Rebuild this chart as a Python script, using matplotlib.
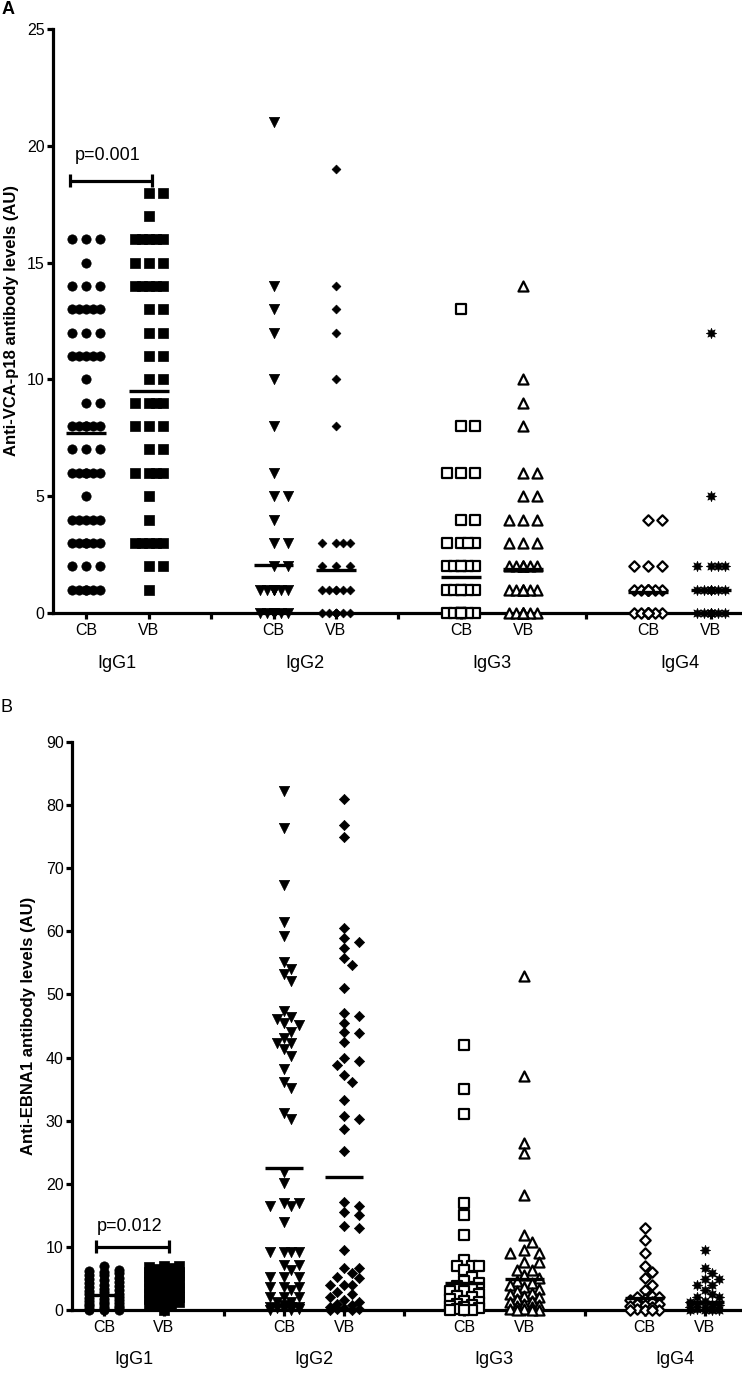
import numpy as np
import matplotlib
matplotlib.use("Agg")
import matplotlib.pyplot as plt

plt.rcParams['font.family'] = ['Liberation Sans', 'DejaVu Sans']

# ---------------- data ----------------
groups = ["IgG1", "IgG2", "IgG3", "IgG4"]
subgroups = ["CB", "VB"]

# Panel A: Anti-VCA-p18 (AU)
A_IgG1_CB = [16, 16, 16, 15, 14, 14, 14, 13, 13, 13, 13, 13, 12, 12, 12, 11, 11, 11, 11, 11,
             10, 9, 9, 8, 8, 8, 8, 8, 8, 7, 7, 7, 6, 6, 6, 6, 6, 6, 5, 4, 4, 4, 4, 4,
             3, 3, 3, 3, 3, 3, 2, 2, 2, 1, 1, 1, 1, 1, 1]
A_IgG1_VB = [18, 18, 17, 16, 16, 16, 16, 16, 15, 15, 15, 14, 14, 14, 14, 14, 13, 13, 12, 12,
             11, 11, 10, 10, 9, 9, 9, 9, 8, 8, 8, 7, 7, 6, 6, 6, 6, 5, 4, 3, 3, 3, 3, 3, 2, 2, 1]
A_IgG2_CB = [21, 14, 13, 12, 10, 8, 6, 5, 5, 4, 3, 3, 2, 2, 1, 1, 1, 1, 1, 1, 1,
             0, 0, 0, 0, 0, 0, 0, 0]
A_IgG2_VB = [19, 14, 13, 12, 10, 8, 3, 3, 3, 3, 2, 2, 2, 1, 1, 1, 1, 1, 1,
             0, 0, 0, 0, 0, 0, 0, 0]
A_IgG3_CB = [13, 8, 8, 6, 6, 6, 4, 4, 3, 3, 3, 3, 2, 2, 2, 2, 2, 2, 1, 1, 1, 1, 1, 1,
             0, 0, 0, 0, 0, 0, 0, 0]
A_IgG3_VB = [14, 10, 9, 8, 6, 6, 5, 5, 4, 4, 4, 3, 3, 3, 2, 2, 2, 2, 2, 2, 2,
             1, 1, 1, 1, 1, 1, 1, 0, 0, 0, 0, 0, 0, 0, 0]
A_IgG4_CB = [4, 4, 2, 2, 2, 1, 1, 1, 1, 1, 1, 1, 1, 0, 0, 0, 0, 0, 0, 0, 0]
A_IgG4_VB = [12, 5, 2, 2, 2, 2, 1, 1, 1, 1, 1, 1, 1, 1, 0, 0, 0, 0, 0, 0, 0, 0]
A_means = [7.7, 9.5, 2.05, 1.85, 1.55, 1.9, 0.9, 1.0]

# Panel B: Anti-EBNA1 (AU)
B_IgG1_CB = [7.0, 6.3, 6.2, 6.1, 5.8, 5.6, 5.5, 5.0, 4.9, 4.7, 4.4, 4.2, 4.0, 3.8, 3.6, 3.4,
             3.1, 3.0, 2.8, 2.6, 2.5, 2.3, 2.0, 1.9, 1.8, 1.6, 1.4, 1.3, 1.1, 1.0, 0.9,
             0.7, 0.6, 0.5, 0.3, 0.2, 0.1, 0.0, 0.0, 0.0]
B_IgG1_VB = [7.0, 6.9, 6.8, 6.6, 6.5, 6.3, 6.1, 6.0, 5.8, 5.7, 5.5, 5.4, 5.2, 5.0, 4.9, 4.7,
             4.5, 4.4, 4.2, 4.0, 3.8, 3.7, 3.5, 3.3, 3.2, 3.0, 2.8, 2.7, 2.5, 2.3, 2.2,
             2.0, 1.8, 1.7, 1.5, 1.3, 1.2, 1.0, 0.9, 0.8, 0.0]
B_IgG2_CB = [82.2, 76.3, 67.3, 61.4, 59.2, 55.2, 54.1, 53.2, 52.1, 47.3, 46.5, 46.1, 45.4,
             45.2, 44.1, 43.1, 42.3, 42.3, 41.3, 40.3, 38.2, 36.2, 35.2, 31.2, 30.2, 21.9,
             20.1, 17.0, 17.0, 16.4, 16.4, 14.0, 9.2, 9.2, 9.2, 9.2, 7.1, 7.1, 6.4, 5.3,
             5.3, 5.3, 3.7, 3.7, 3.7, 3.2, 2.1, 2.1, 2.1, 1.3, 1.3, 0.8, 0.5, 0.5, 0.4,
             0.3, 0.2, 0.1, 0.0, 0.0]
B_IgG2_VB = [80.9, 76.8, 74.9, 60.5, 58.9, 58.3, 57.4, 55.7, 54.6, 51.1, 47.1, 46.6, 45.4,
             44.0, 43.9, 42.5, 40.0, 39.4, 38.8, 37.3, 36.2, 33.3, 30.7, 30.3, 28.7, 25.2,
             17.1, 16.5, 15.5, 15.0, 13.3, 13.0, 9.5, 6.6, 6.6, 5.8, 5.3, 5.0, 4.0, 4.0,
             4.0, 2.8, 2.5, 2.0, 1.6, 1.2, 1.0, 0.8, 0.5, 0.3, 0.2, 0.1, 0.0, 0.0]
B_IgG3_CB = [42.0, 35.0, 31.0, 17.0, 15.0, 11.9, 7.9, 7.0, 7.0, 7.0, 6.3, 5.3, 4.6, 4.2,
             3.8, 3.4, 3.0, 3.0, 2.6, 2.2, 2.0, 1.8, 1.5, 1.2, 1.0, 0.8, 0.6, 0.4, 0.3,
             0.1, 0.0, 0.0, 0.0]
B_IgG3_VB = [53.0, 37.0, 26.5, 24.8, 18.2, 11.9, 10.7, 9.5, 9.0, 9.0, 7.6, 7.6, 6.3, 6.3,
             5.5, 5.0, 4.6, 4.2, 4.0, 3.6, 3.3, 3.0, 2.7, 2.5, 2.2, 2.0, 1.8, 1.5, 1.3,
             1.0, 0.8, 0.6, 0.4, 0.2, 0.1, 0.0, 0.0, 0.0]
B_IgG4_CB = [13.0, 11.1, 9.1, 7.0, 6.1, 5.1, 4.0, 3.2, 2.2, 2.0, 2.0, 1.8, 1.6, 1.2, 1.0,
             0.9, 0.8, 0.6, 0.4, 0.2, 0.0, 0.0, 0.0, 0.0]
B_IgG4_VB = [9.5, 6.7, 5.8, 4.9, 4.9, 4.0, 4.0, 3.2, 2.5, 2.0, 2.0, 1.5, 1.2, 1.0, 1.0,
             0.8, 0.5, 0.4, 0.2, 0.1, 0.0, 0.0, 0.0, 0.0]
B_means = [2.3, 3.8, 22.5, 21.1, 4.2, 4.9, 1.9, 1.3]

A_series = [A_IgG1_CB, A_IgG1_VB, A_IgG2_CB, A_IgG2_VB, A_IgG3_CB, A_IgG3_VB, A_IgG4_CB, A_IgG4_VB]
B_series = [B_IgG1_CB, B_IgG1_VB, B_IgG2_CB, B_IgG2_VB, B_IgG3_CB, B_IgG3_VB, B_IgG4_CB, B_IgG4_VB]

A_sig = {"x0": -0.25, "x1": 1.05, "y": 18.5, "ty": 19.6, "text": "p=0.001"}
B_sig = {"x0": -0.13, "x1": 1.08, "y": 10.0, "ty": 13.3, "text": "p=0.012"}

# ---------------- layout ----------------
W, H = 742, 1373
fig = plt.figure(figsize=(W / 100, H / 100), dpi=100)


def px_axes(left, top, right, bottom):
    return fig.add_axes([left / W, 1 - bottom / H, (right - left) / W, (bottom - top) / H])


positions = [0, 1, 3, 4, 6, 7, 9, 10]
group_centers = [0.5, 3.5, 6.5, 9.5]

styles_A = [
    dict(marker='o', s=45, facecolors='black', edgecolors='black', linewidths=0.5),
    dict(marker='s', s=50, facecolors='black', edgecolors='black', linewidths=0.5),
    dict(marker='v', s=55, facecolors='black', edgecolors='black', linewidths=0.5),
    dict(marker='D', s=20, facecolors='black', edgecolors='black', linewidths=0.5),
    dict(marker='s', s=48, facecolors='white', edgecolors='black', linewidths=1.6),
    dict(marker='^', s=52, facecolors='white', edgecolors='black', linewidths=1.6),
    dict(marker='D', s=28, facecolors='white', edgecolors='black', linewidths=1.6),
    dict(marker=(8, 1, 0), s=55, facecolors='black', edgecolors='black', linewidths=0.5),
]
styles_B = [dict(st) for st in styles_A]
styles_B[3]['s'] = 27


def swarm_x(ax, vals, xc, cands):
    vals = np.asarray(vals, dtype=float)
    p0 = ax.transData.transform((0, 0))
    p1 = ax.transData.transform((1, 1))
    ppx, ppy = p1[0] - p0[0], p1[1] - p0[1]
    D_px = cands["D"]
    offsets = cands["offsets"]
    placed = []
    offs = np.zeros(len(vals))
    for i in np.argsort(-vals, kind='stable'):
        y = vals[i] * ppy
        best, bestscore = 0.0, -1.0
        for c in offsets:
            md = min([np.hypot(c - px, y - py) for px, py in placed] or [np.inf])
            if md >= D_px:
                best = c
                break
            if md > bestscore + 1e-9:
                bestscore, best = md, c
        offs[i] = best
        placed.append((best, y))
    return xc + offs / ppx


def setup(ax, xlim, ylim, yticks):
    ax.set_xlim(*xlim)
    ax.set_ylim(*ylim)
    for sp in ['top', 'right']:
        ax.spines[sp].set_visible(False)
    for sp in ['left', 'bottom']:
        ax.spines[sp].set_linewidth(2.3)
        ax.spines[sp].set_capstyle('projecting')
    ax.set_yticks(yticks)
    ax.set_xticks(range(11))
    labels = []
    for i in range(11):
        if i in positions:
            labels.append(subgroups[positions.index(i) % 2])
        else:
            labels.append('')
    ax.set_xticklabels(labels)
    ax.tick_params(axis='both', direction='out', length=4.5, width=2.3, labelsize=11.5,
                   colors='black')
    ax.tick_params(axis='x', pad=3)
    ax.tick_params(axis='y', pad=1.5)
    for gc, gname in zip(group_centers, groups):
        ax.annotate(gname, xy=(gc, 0), xycoords=('data', 'axes fraction'),
                    xytext=(0, -36), textcoords='offset points',
                    ha='center', va='center', fontsize=13)


def draw(ax, series, means, sig, styles, cand_list):
    for k, (vals, xc) in enumerate(zip(series, positions)):
        xs = swarm_x(ax, vals, xc, cand_list[k])
        ax.scatter(xs, vals, clip_on=False, zorder=3, **styles[k])
        ax.hlines(means[k], xc - 0.32, xc + 0.32, colors='black', linewidth=2.4, zorder=4)
    # significance bracket
    p0 = ax.transData.transform((0, 0))
    p1 = ax.transData.transform((1, 1))
    cap = 6.5 / (p1[1] - p0[1])
    ax.plot([sig["x0"], sig["x1"]], [sig["y"], sig["y"]], color='black', lw=2.3,
            solid_capstyle='butt', zorder=5)
    for xx in (sig["x0"], sig["x1"]):
        ax.plot([xx, xx], [sig["y"] - cap, sig["y"] + cap], color='black', lw=2.3,
                solid_capstyle='butt', zorder=5)
    ax.text((sig["x0"] + sig["x1"]) / 2 - 0.05, sig["ty"], sig["text"], ha='center',
            va='center', fontsize=13)


swarmA = {"D": 9.5, "offsets": [0.0, 7.0, -7.0, 14.0, -14.0]}
swarmB = {"D": 8.5, "offsets": [0.0, 7.3, -7.3, 14.6, -14.6]}
swarmB_cols = {"D": 8.5, "offsets": [0.0, 15.0, -15.0]}

axA = px_axes(53, 29, 742, 613)
setup(axA, (-0.53, 10.5), (0, 25), [0, 5, 10, 15, 20, 25])
draw(axA, A_series, A_means, A_sig, styles_A, [swarmA] * 8)

axB = px_axes(72, 742, 742, 1310)
setup(axB, (-0.53, 10.62), (0, 90), list(range(0, 91, 10)))
draw(axB, B_series, B_means, B_sig, styles_B, [swarmB_cols] + [swarmB] * 7)

fig.text(12 / W, 1 - 320 / H, "Anti-VCA-p18 antibody levels (AU)", rotation=90,
         ha='center', va='center', fontsize=12, fontweight='bold')
fig.text(29 / W, 1 - 1026 / H, "Anti-EBNA1 antibody levels (AU)", rotation=90,
         ha='center', va='center', fontsize=12, fontweight='bold')
fig.text(2 / W, 1 - 9 / H, "A", ha='left', va='center', fontsize=13, fontweight='bold')
fig.text(1 / W, 1 - 707 / H, "B", ha='left', va='center', fontsize=13)

fig.savefig("out.png", dpi=100)
